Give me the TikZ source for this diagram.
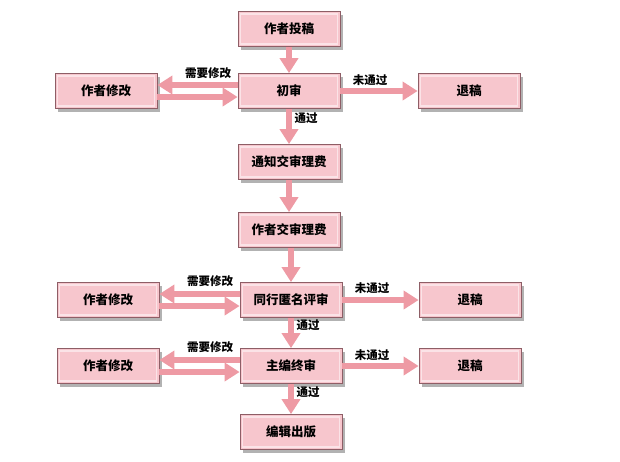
\documentclass[tikz,border=0pt]{standalone}
\usepackage{fontspec}
\setmainfont{Noto Sans CJK SC}
\usetikzlibrary{arrows.meta,shadows}
\definecolor{boxfill}{HTML}{F7C6CD}
\definecolor{boxline}{HTML}{8E5E66}
\definecolor{boxhi}{HTML}{FBE3E7}
\definecolor{arr}{HTML}{EE9AA4}
\tikzset{
  stagebox/.style={draw=boxline, line width=0.8pt, fill=boxfill,
    minimum width=102pt, minimum height=35pt, inner sep=0pt,
    font=\fontsize{12.5}{14}\selectfont\bfseries,
    drop shadow={shadow xshift=3pt, shadow yshift=-3pt, opacity=0.5, fill=black!60},
    path picture={\draw[boxhi, line width=1.6pt]
      ([shift={(2.5pt,-2.5pt)}]path picture bounding box.north west) rectangle
      ([shift={(-2.5pt,2.5pt)}]path picture bounding box.south east);}},
  flow/.style={draw=arr, line width=6pt, -{Triangle[width=18pt,length=15pt]}},
  lbl/.style={font=\fontsize{11.5}{13}\selectfont\bfseries, inner sep=1pt}
}
\begin{document}
\begin{tikzpicture}[x=1pt,y=-1pt]
\useasboundingbox[fill=white] (0,0) rectangle (620,461);
% nodes
\node[stagebox] (A) at (289,29) {作者投稿};
\node[stagebox] (B) at (289,91) {初审};
\node[stagebox] (L1) at (106,91) {作者修改};
\node[stagebox] (R1) at (469,91) {退稿};
\node[stagebox] (C) at (289,162) {通知交审理费};
\node[stagebox] (D) at (289,230) {作者交审理费};
\node[stagebox] (E) at (291,300) {同行匿名评审};
\node[stagebox] (L2) at (108,300) {作者修改};
\node[stagebox] (R2) at (470,300) {退稿};
\node[stagebox] (F) at (291,366) {主编终审};
\node[stagebox] (L3) at (108,366) {作者修改};
\node[stagebox] (R3) at (470,366) {退稿};
\node[stagebox] (G) at (291,432) {编辑出版};
% vertical flow
\draw[flow] (A.south) -- (B.north);
\draw[flow] (B.south) -- (C.north);
\draw[flow] (C.south) -- (D.north);
\draw[flow] (D.south -| E.north) -- (E.north);
\draw[flow] (E.south) -- (F.north);
\draw[flow] (F.south) -- (G.north);
% rejections
\draw[flow] (B.east) -- (R1.west);
\draw[flow] (E.east) -- (R2.west);
\draw[flow] (F.east) -- (R3.west);
% revisions
\draw[flow] ([yshift=6pt]B.west) -- ([yshift=6pt]L1.east);
\draw[flow] ([yshift=-6pt]L1.east) -- ([yshift=-6pt]B.west);
\draw[flow] ([yshift=6pt]E.west) -- ([yshift=6pt]L2.east);
\draw[flow] ([yshift=-6pt]L2.east) -- ([yshift=-6pt]E.west);
\draw[flow] ([yshift=6pt]F.west) -- ([yshift=6pt]L3.east);
\draw[flow] ([yshift=-6pt]L3.east) -- ([yshift=-6pt]F.west);
% labels
\node[lbl] (t1) at (208,73) {需要修改};
\node[lbl] (t2) at (210,281) {需要修改};
\node[lbl] (t3) at (210,347) {需要修改};
\node[lbl] (n1) at (370,80) {未通过};
\node[lbl] (n2) at (372,288) {未通过};
\node[lbl] (n3) at (372,355) {未通过};
\node[lbl] (p1) at (306,118) {通过};
\node[lbl] (p2) at (308,325) {通过};
\node[lbl] (p3) at (308,392) {通过};
\end{tikzpicture}
\end{document}
